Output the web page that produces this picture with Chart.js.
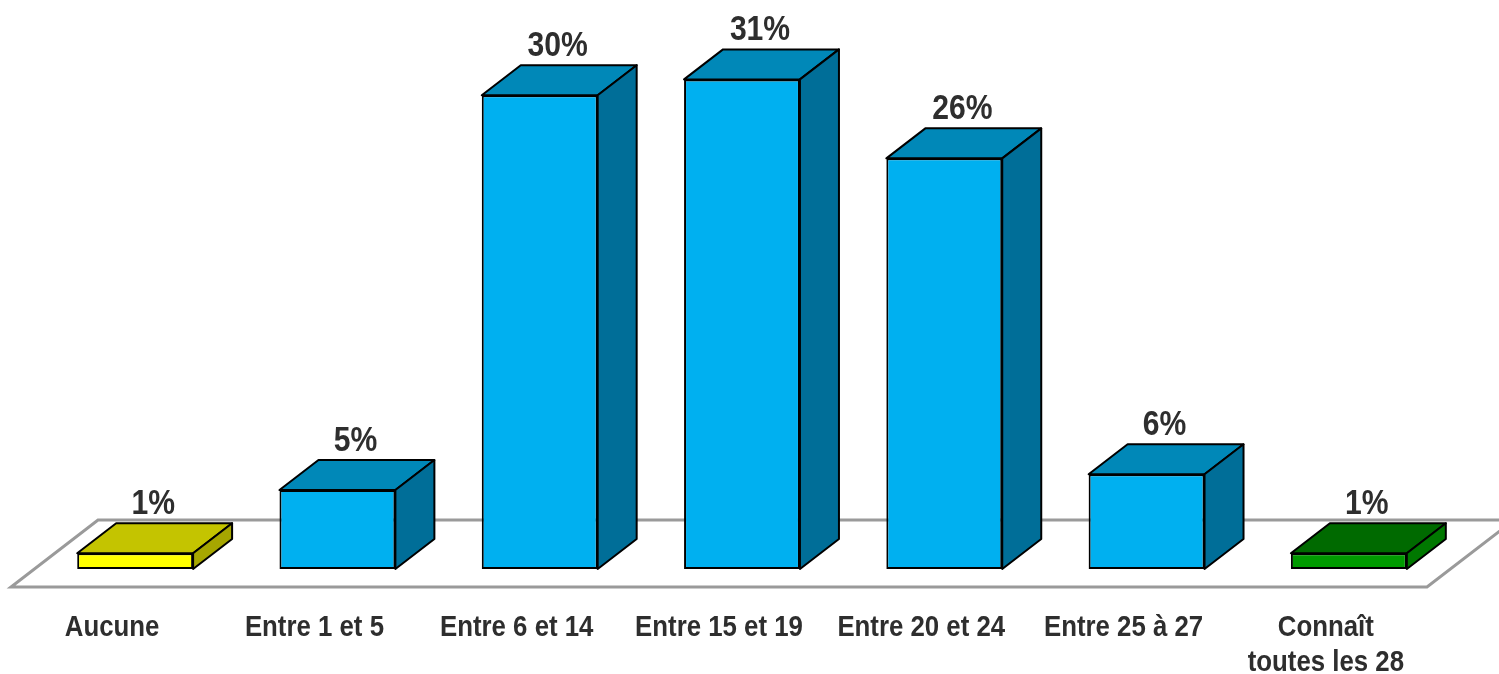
<!DOCTYPE html>
<html>
<head>
<meta charset="utf-8">
<script src="https://cdn.jsdelivr.net/npm/chart.js@4/dist/chart.umd.min.js"></script>
<style>
  html, body { margin: 0; padding: 0; background: #ffffff; }
  #wrap { width: 1499px; height: 674px; }
</style>
</head>
<body>
<div id="wrap"><canvas id="c" width="1499" height="674"></canvas></div>
<script>
// ---- data ----
const categories = [
  'Aucune',
  'Entre 1 et 5',
  'Entre 6 et 14',
  'Entre 15 et 19',
  'Entre 20 et 24',
  'Entre 25 à 27',
  ['Connaît', 'toutes les 28']
];
const values = [1, 5, 30, 31, 26, 6, 1];
const valueLabels = ['1%', '5%', '30%', '31%', '26%', '6%', '1%'];

// ---- styles ----
const frontColors = ['#FFFF00', '#00B0F0', '#00B0F0', '#00B0F0', '#00B0F0', '#00B0F0', '#009A00'];
const topColors   = ['#C4C400', '#0088B8', '#0088B8', '#0088B8', '#0088B8', '#0088B8', '#006A00'];
const sideColors  = ['#A6A600', '#006E98', '#006E98', '#006E98', '#006E98', '#006E98', '#007800'];
const DX = 39, DY = -30;             // bar depth
const FLOOR_DX = 87, FLOOR_DY = -67; // floor depth
const FLOOR_SHIFT_X = -23, FLOOR_SHIFT_Y = 18;
const FONT = "'Liberation Sans', Arial, sans-serif";
const SQUEEZE = 0.86;                // narrow-font look
const TEXT_COLOR = '#2e2e2e';

function squeezedText(ctx, text, x, y, size) {
  ctx.save();
  ctx.font = 'bold ' + size + 'px ' + FONT;
  ctx.fillStyle = TEXT_COLOR;
  ctx.textAlign = 'center';
  ctx.textBaseline = 'alphabetic';
  ctx.translate(x, y);
  ctx.scale(SQUEEZE, 1);
  ctx.fillText(text, 0, 0);
  ctx.restore();
}

const floorPlugin = {
  id: 'floor3d',
  beforeDatasetsDraw(chart) {
    const ca = chart.chartArea;
    const ctx = chart.ctx;
    const x0 = ca.left + FLOOR_SHIFT_X, x1 = ca.right + FLOOR_SHIFT_X;
    const y0 = ca.bottom + FLOOR_SHIFT_Y;
    ctx.save();
    ctx.beginPath();
    ctx.moveTo(x0, y0);
    ctx.lineTo(x1, y0);
    ctx.lineTo(x1 + FLOOR_DX, y0 + FLOOR_DY);
    ctx.lineTo(x0 + FLOOR_DX, y0 + FLOOR_DY);
    ctx.closePath();
    ctx.fillStyle = '#ffffff';
    ctx.fill();
    ctx.strokeStyle = '#9a9a9a';
    ctx.lineWidth = 3;
    ctx.stroke();
    ctx.restore();
  }
};

const facesPlugin = {
  id: 'faces3d',
  afterDatasetsDraw(chart) {
    const ctx = chart.ctx;
    const meta = chart.getDatasetMeta(0);
    ctx.save();
    ctx.lineWidth = 2;
    ctx.strokeStyle = '#000000';
    ctx.lineJoin = 'round';
    meta.data.forEach((bar, i) => {
      const p = bar.getProps(['x', 'y', 'base', 'width'], true);
      const l = p.x - p.width / 2, r = p.x + p.width / 2;
      const t = p.y, b = p.base;
      // top face
      ctx.beginPath();
      ctx.moveTo(l, t);
      ctx.lineTo(r, t);
      ctx.lineTo(r + DX, t + DY);
      ctx.lineTo(l + DX, t + DY);
      ctx.closePath();
      ctx.fillStyle = topColors[i];
      ctx.fill();
      ctx.stroke();
      // side face
      ctx.beginPath();
      ctx.moveTo(r, t);
      ctx.lineTo(r + DX, t + DY);
      ctx.lineTo(r + DX, b + DY);
      ctx.lineTo(r, b);
      ctx.closePath();
      ctx.fillStyle = sideColors[i];
      ctx.fill();
      ctx.stroke();
    });
    ctx.restore();
    // value labels
    meta.data.forEach((bar, i) => {
      const p = bar.getProps(['x', 'y'], true);
      squeezedText(ctx, valueLabels[i], p.x + 18, p.y + DY - 9, 35);
    });
  },
  afterDraw(chart) {
    const ctx = chart.ctx;
    const xs = chart.scales.x;
    const base = chart.chartArea.bottom + 67;
    chart.data.labels.forEach((lab, i) => {
      const lines = Array.isArray(lab) ? lab : [lab];
      const x = xs.getPixelForValue(i) + FLOOR_SHIFT_X;
      lines.forEach((line, k) => squeezedText(ctx, line, x, base + k * 35, 30));
    });
  }
};

new Chart(document.getElementById('c'), {
  type: 'bar',
  data: {
    labels: categories,
    datasets: [{
      data: values,
      backgroundColor: frontColors,
      borderColor: '#000000',
      borderWidth: 2,
      borderSkipped: false,
      barPercentage: 0.573,
      categoryPercentage: 1.0
    }]
  },
  options: {
    responsive: false,
    animation: false,
    layout: { padding: { left: 34, right: 49, top: 32, bottom: 0 } },
    plugins: {
      legend: { display: false },
      tooltip: { enabled: false }
    },
    scales: {
      x: {
        grid: { display: false, drawTicks: false },
        border: { display: false },
        ticks: { display: false, autoSkip: false, maxRotation: 0 },
        afterFit(scale) { scale.height = 105; }
      },
      y: {
        display: false,
        min: 0,
        max: 34
      }
    }
  },
  plugins: [floorPlugin, facesPlugin]
});
</script>
</body>
</html>
